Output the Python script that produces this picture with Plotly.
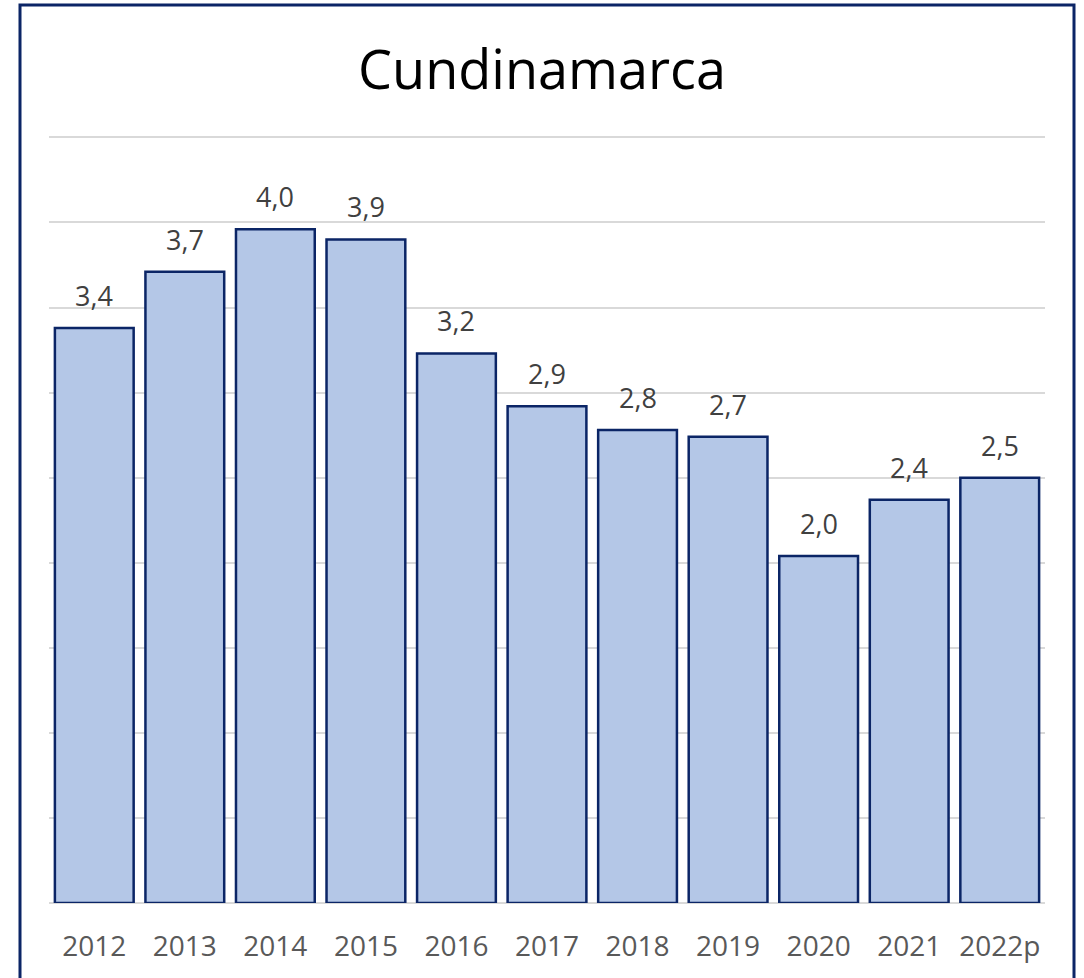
import plotly.graph_objects as go

years = ["2012", "2013", "2014", "2015", "2016", "2017", "2018", "2019", "2020", "2021", "2022p"]
values = [3.38, 3.71, 3.96, 3.90, 3.23, 2.92, 2.78, 2.74, 2.04, 2.37, 2.50]
labels = [f"{v:.1f}".replace(".", ",") for v in values]
pos = list(range(len(years)))

W, H = 1084, 978
L, R, T, B = 49, 39, 134, 75
pw, ph = W - L - R, H - T - B

fig = go.Figure(go.Bar(
    x=pos, y=values,
    marker=dict(color="#b4c7e7", line=dict(color="#0b2566", width=2.5)),
    hovertext=years, hoverinfo="text+y",
))

for x, y, t in zip(pos, values, labels):
    fig.add_annotation(x=x, y=y, text=t, showarrow=False, yanchor="bottom", yshift=12,
                       font=dict(family="Open Sans", size=27, color="#404040"))

fig.update_layout(
    width=W, height=H,
    margin=dict(l=L, r=R, t=T, b=B),
    paper_bgcolor="white", plot_bgcolor="white",
    bargap=0.13,
    showlegend=False,
    title=dict(text="Cundinamarca", x=0.5, xanchor="center", y=1 - 70 / H, yanchor="middle",
               font=dict(family="Open Sans", size=54, color="black")),
    xaxis=dict(type="linear", range=[-0.5, len(years) - 0.5], tickmode="array",
               tickvals=pos, ticktext=years,
               showgrid=False, showline=False, zeroline=False, ticks="", ticklabelstandoff=24,
               tickfont=dict(family="Open Sans", size=28, color="#595959")),
    yaxis=dict(range=[0, 4.52], dtick=0.5, showticklabels=False, showgrid=True,
               gridcolor="#d9d9d9", gridwidth=2, zeroline=True, zerolinecolor="#d9d9d9",
               zerolinewidth=2, showline=False),
)

fig.add_shape(type="rect", xref="paper", yref="paper",
              x0=(20 - L) / pw, x1=(1074 - L) / pw,
              y0=(H - B - 990) / ph, y1=(H - B - 5) / ph,
              line=dict(color="#0b2566", width=3), fillcolor="rgba(0,0,0,0)", layer="above")

fig.write_html("out.html", config={"displayModeBar": False},
               post_script="document.body.style.margin='0px';")
